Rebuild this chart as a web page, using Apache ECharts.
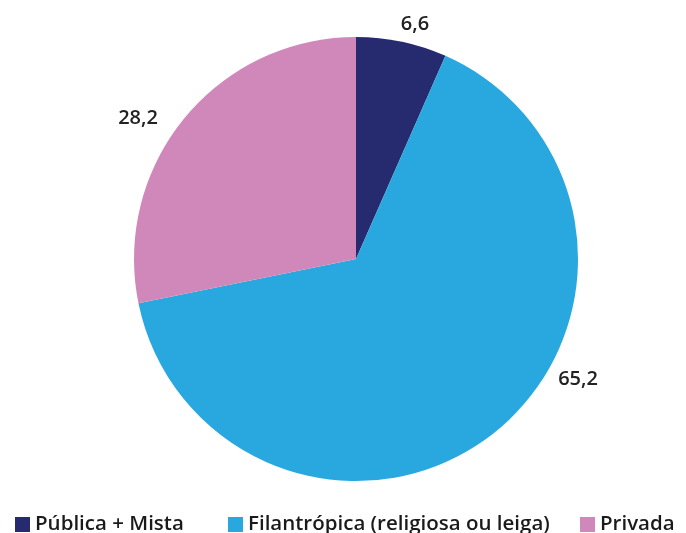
<!DOCTYPE html>
<html>
<head>
<meta charset="utf-8">
<script src="https://cdn.jsdelivr.net/npm/echarts@6/dist/echarts.min.js"></script>
<style>
  html, body { margin: 0; padding: 0; background: #fff; }
  #chart { width: 686px; height: 533px; }
</style>
</head>
<body>
<div id="chart"></div>
<script>
const categories = ['Pública + Mista', 'Filantrópica (religiosa ou leiga)', 'Privada'];
const values = [6.6, 65.2, 28.2];
const colors = ['#262a6e', '#29a8e0', '#d088bb'];
// posição dos rótulos (como no original, não no meio da fatia)
const labelPos = [[415, 24], [578, 379], [138, 118]];

const myChart = echarts.init(document.getElementById('chart'));

const legendBase = {
  top: 509,
  itemWidth: 15,
  itemHeight: 15,
  itemGap: 6,
  icon: 'rect',
  textStyle: { fontFamily: 'Open Sans', fontSize: 20.5, fontWeight: 600, color: '#1a1a1a' }
};

myChart.setOption({
  color: colors,
  animation: false,
  legend: [
    Object.assign({}, legendBase, { left: 10, data: [categories[0]] }),
    Object.assign({}, legendBase, { left: 223, data: [categories[1]] }),
    Object.assign({}, legendBase, { left: 575, data: [categories[2]] })
  ],
  series: [
    {
      type: 'pie',
      center: [356, 259],
      radius: [0, 222],
      startAngle: 90,
      clockwise: true,
      data: categories.map((name, i) => ({ name: name, value: values[i] })),
      label: {
        show: true,
        position: 'outside',
        formatter: p => String(p.value).replace('.', ','),
        fontFamily: 'Open Sans',
        fontSize: 20,
        fontWeight: 600,
        color: '#222'
      },
      labelLine: { show: false },
      labelLayout: function (params) {
        const pos = labelPos[params.dataIndex];
        return { x: pos[0], y: pos[1], align: 'center', verticalAlign: 'middle' };
      },
      itemStyle: { borderWidth: 0 },
      emphasis: { disabled: true }
    }
  ]
});
</script>
</body>
</html>
